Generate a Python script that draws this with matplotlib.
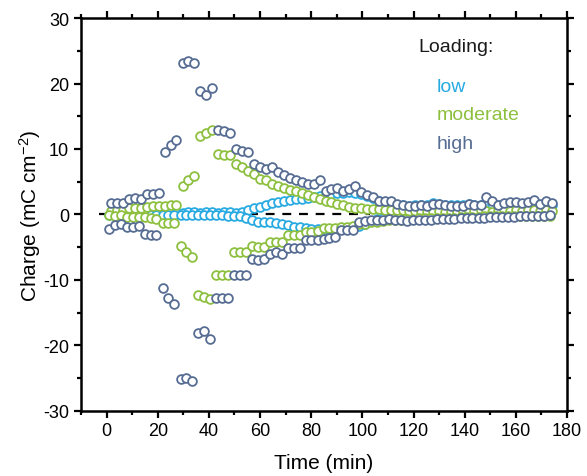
import matplotlib
matplotlib.use("Agg")
import matplotlib.pyplot as plt
from matplotlib.ticker import MultipleLocator

plt.rcParams['font.family'] = ['Liberation Sans', 'DejaVu Sans']
plt.rcParams['mathtext.default'] = 'regular'
plt.rcParams['axes.unicode_minus'] = False

# time of each reduction (negative) and oxidation (positive) half cycle, min
t_red = [0.9, 3.2, 5.6, 7.9, 10.2, 12.6, 14.9, 17.2, 19.5, 21.9,
         24.2, 26.5, 28.9, 31.2, 33.5, 35.9, 38.2, 40.5, 42.8, 45.2,
         47.5, 49.8, 52.2, 54.5, 56.8, 59.2, 61.5, 63.8, 66.1, 68.5,
         70.8, 73.1, 75.5, 77.8, 80.1, 82.5, 84.8, 87.1, 89.4, 91.8,
         94.1, 96.4, 98.8, 101.1, 103.4, 105.8, 108.1, 110.4, 112.7, 115.1,
         117.4, 119.7, 122.1, 124.4, 126.7, 129.0, 131.4, 133.7, 136.0, 138.4,
         140.7, 143.0, 145.4, 147.7, 150.0, 152.3, 154.7, 157.0, 159.3, 161.7,
         164.0, 166.3, 168.7, 171.0, 173.3]
t_ox = [1.7, 4.0, 6.4, 8.7, 11.0, 13.4, 15.7, 18.0, 20.3, 22.7,
        25.0, 27.3, 29.7, 32.0, 34.3, 36.7, 39.0, 41.3, 43.6, 46.0,
        48.3, 50.6, 53.0, 55.3, 57.6, 60.0, 62.3, 64.6, 66.9, 69.3,
        71.6, 73.9, 76.3, 78.6, 80.9, 83.3, 85.6, 87.9, 90.2, 92.6,
        94.9, 97.2, 99.6, 101.9, 104.2, 106.6, 108.9, 111.2, 113.5, 115.9,
        118.2, 120.5, 122.9, 125.2, 127.5, 129.8, 132.2, 134.5, 136.8, 139.2,
        141.5, 143.8, 146.2, 148.5, 150.8, 153.1, 155.5, 157.8, 160.1, 162.5,
        164.8, 167.1, 169.5, 171.8, 174.1]

# charge, mC cm^-2
low_ox = [0.1, 0.1, 0.1, 0.2, 0.2, 0.2, 0.2, 0.2, 0.2, 0.3,
          0.3, 0.2, 0.2, 0.3, 0.3, 0.2, 0.3, 0.3, 0.2, 0.3,
          0.3, 0.2, 0.3, 0.6, 1.0, 1.2, 1.4, 1.7, 1.9, 2.0,
          2.2, 2.3, 2.4, 2.5, 2.6, 2.8, 3.0, 3.1, 3.2, 3.3,
          3.4, 3.3, 3.1, 2.8, 2.5, 2.1, 1.9, 1.7, 1.5, 1.4,
          1.35, 1.4, 1.45, 1.5, 1.7, 1.6, 1.5, 1.5, 1.4, 1.5,
          1.6, 1.5, 1.5, 1.6, 1.6, 1.5, 1.6, 1.6, 1.5, 1.6,
          1.6, 1.7, 1.5, 1.6, 1.5]
low_red = [-0.1, -0.1, -0.1, -0.1, -0.1, -0.1, -0.1, -0.1, -0.1, -0.1,
           -0.1, -0.1, -0.1, -0.1, -0.1, -0.1, -0.1, -0.1, -0.1, -0.1,
           -0.2, -0.2, -0.3, -0.6, -0.9, -1.1, -1.2, -1.2, -1.3, -1.5,
           -1.7, -1.9, -2.0, -2.1, -2.2, -2.3, -2.3, -2.3, -2.2, -2.2,
           -2.1, -2.1, -1.8, -1.4, -1.0, -0.7, -0.5, -0.4, -0.3, -0.2,
           -0.2, -0.2, -0.1, -0.1, -0.1, -0.1, 0.0, 0.0, 0.0, 0.0,
           0.0, 0.0, 0.0, 0.1, 0.1, 0.0, 0.1, 0.1, 0.1, 0.1,
           0.1, 0.1, 0.1, 0.1, 0.1]

mod_ox = [0.5, 0.6, 0.6, 0.9, 1.0, 1.0, 1.2, 1.3, 1.3, 1.35,
          1.5, 1.5, 4.4, 5.2, 5.9, 12.0, 12.4, 12.9, 9.3, 9.1,
          9.1, 7.7, 7.2, 6.7, 6.2, 5.4, 5.2, 4.7, 4.4, 4.0,
          3.8, 3.5, 3.2, 2.9, 2.7, 2.4, 2.0, 1.9, 1.6, 1.4,
          1.1, 1.0, 0.9, 0.85, 0.8, 0.75, 0.7, 0.65, 0.6, 0.6,
          0.5, 0.45, 0.4, 0.3, 0.4, 0.5, 0.4, 0.3, 0.4, 0.5,
          0.4, 0.5, 0.6, 0.5, 0.4, 0.5, 0.6, 0.5, 0.6, 0.5,
          0.6, 0.7, 0.5, 0.6, 0.5]
mod_red = [-0.1, -0.2, -0.1, -0.4, -0.4, -0.4, -0.4, -0.6, -0.7, -1.3,
           -1.3, -1.3, -4.8, -5.8, -6.5, -12.3, -12.6, -12.9, -9.2, -9.2,
           -9.2, -5.8, -5.8, -5.8, -4.8, -5.0, -5.0, -4.2, -4.2, -4.2,
           -3.2, -3.2, -3.1, -2.7, -2.7, -2.6, -2.1, -2.1, -2.1, -2.0,
           -1.9, -1.8, -1.5, -1.4, -1.2, -1.1, -1.0, -0.9, -0.8, -0.8,
           -0.7, -0.7, -0.6, -0.6, -0.6, -0.5, -0.5, -0.5, -0.5, -0.4,
           -0.4, -0.4, -0.4, -0.3, -0.3, -0.3, -0.3, -0.3, -0.3, -0.2,
           -0.2, -0.2, -0.2, -0.2, -0.2]

high_ox = [1.8, 1.7, 1.7, 2.4, 2.5, 2.4, 3.1, 3.1, 3.2, 9.6,
           10.6, 11.3, 23.2, 23.5, 23.2, 18.9, 18.2, 19.3, 12.9, 12.8,
           12.5, 10.0, 9.7, 9.5, 7.7, 7.2, 6.9, 7.2, 6.5, 6.0,
           5.5, 5.2, 4.9, 4.7, 4.6, 5.2, 3.6, 3.9, 4.0, 3.6,
           3.9, 4.4, 3.4, 3.0, 2.6, 2.1, 2.0, 2.1, 1.6, 1.4,
           1.3, 1.3, 1.4, 1.3, 1.6, 1.6, 1.4, 1.25, 1.25, 1.3,
           1.6, 1.5, 1.5, 2.6, 2.1, 1.45, 1.75, 1.85, 1.85, 1.75,
           1.95, 2.25, 1.6, 2.1, 1.75]
high_red = [-2.2, -1.7, -1.45, -1.95, -1.95, -1.8, -3.0, -3.2, -3.2, -11.3,
            -12.8, -13.7, -25.1, -25.0, -25.5, -18.2, -17.9, -19.0, -12.8, -12.8,
            -12.8, -9.2, -9.2, -9.2, -6.8, -7.0, -6.8, -6.0, -5.8, -6.0,
            -5.1, -5.1, -5.1, -3.9, -3.9, -3.9, -3.8, -3.6, -3.5, -2.4,
            -2.4, -2.4, -1.2, -1.0, -0.8, -0.8, -0.8, -0.7, -0.8, -0.9,
            -0.95, -0.9, -0.85, -0.8, -0.8, -0.75, -0.7, -0.7, -0.65, -0.6,
            -0.6, -0.55, -0.5, -0.5, -0.45, -0.45, -0.4, -0.4, -0.35, -0.3,
            -0.3, -0.25, -0.25, -0.2, -0.15]

series = [
    ("low", "#27a9e1", low_ox, low_red),
    ("moderate", "#8dc03f", mod_ox, mod_red),
    ("high", "#566c93", high_ox, high_red),
]

fig = plt.figure(figsize=(5.87, 4.77), dpi=100)
ax = fig.add_axes([0.138, 0.137, 0.828, 0.823])

# zero reference
ax.plot([-3, 103], [0, 0], ls=(0, (4, 3.5)), color='black', lw=1.6, zorder=1)

for name, color, q_ox, q_red in series:
    for t, q in ((t_ox, q_ox), (t_red, q_red)):
        ax.plot(t, q, ls='none', marker='o', ms=6.3, mew=1.3,
                mfc='white', mec=color, zorder=2)

ax.set_xlim(-10, 180)
ax.set_ylim(-30, 30)
ax.xaxis.set_major_locator(MultipleLocator(20))
ax.xaxis.set_minor_locator(MultipleLocator(10))
ax.yaxis.set_major_locator(MultipleLocator(10))
ax.yaxis.set_minor_locator(MultipleLocator(5))

for s in ax.spines.values():
    s.set_linewidth(1.8)
ax.tick_params(which='both', direction='out', top=True, right=True, width=1.6,
               labelsize=13)
ax.tick_params(which='major', length=5)
ax.tick_params(which='minor', length=3)

ax.set_xlabel("Time (min)", fontsize=15, labelpad=10)
ax.set_ylabel("Charge (mC cm$^{-2}$)", fontsize=15, labelpad=0)

ax.text(122, 25.6, "Loading:", fontsize=14, va='center', color='#1a1a1a')
for (name, color, _, _), y in zip(series, [19.6, 15.2, 10.8]):
    ax.text(129, y, name, fontsize=14, va='center', color=color)

fig.savefig("out.png", dpi=100)
